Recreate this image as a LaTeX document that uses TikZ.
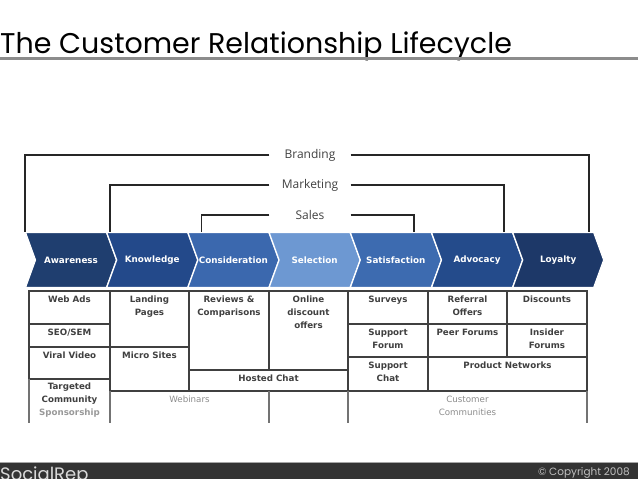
\documentclass[tikz,border=0pt]{standalone}
\usepackage{fontspec}
\setmainfont{DejaVu Sans}
\newfontfamily\titlefont{Poppins}
\newfontfamily\phasefont{Open Sans}
\usetikzlibrary{shapes.symbols,positioning}
\definecolor{chevA}{HTML}{1F3E6F}
\definecolor{chevB}{HTML}{23498A}
\definecolor{chevC}{HTML}{3B68AE}
\definecolor{chevD}{HTML}{6D98D2}
\definecolor{chevE}{HTML}{3D6BB0}
\definecolor{chevF}{HTML}{244B8B}
\definecolor{chevG}{HTML}{1D3868}
\begin{document}
\begin{tikzpicture}[x=1pt,y=-1pt,
	stage/.style={signal,signal from=west,signal to=east,signal pointer angle=140,minimum width=91pt,minimum height=55pt,inner sep=0pt,draw=white,line width=1.2pt,text=white,font=\fontsize{8.8}{10}\bfseries},
	phase/.style={font=\phasefont\fontsize{12}{14}\selectfont,text=black!75,minimum width=81pt,inner sep=0pt},
	cell/.style={draw=black!75,line width=1.1pt},
	celltext/.style={anchor=north,align=center,inner sep=0pt,text=black!75,font=\fontsize{8.7}{13}\bfseries},
	bracket/.style={draw=black!85,line width=1.7pt}]
	\useasboundingbox (0,0) rectangle (638,479);
	\clip (0,0) rectangle (638,479);
	\node[anchor=base west,inner sep=0pt,font=\titlefont\fontsize{28.5}{30}\selectfont] (T) at (0,53) {The Customer Relationship Lifecycle};
	\draw[black!45,line width=2.2pt] (0,58.5) -- (638,58.5);
	\foreach \t/\c [count=\n] in
		{Awareness/chevA,Knowledge/chevB,Consideration/chevC,Selection/chevD,Satisfaction/chevE,Advocacy/chevF,Loyalty/chevG}
		\node[stage,fill=\c] (N\n) at (71+81.2*\n-81.2,260) {\t};
	\node[phase] (Bra) at (310,155) {Branding};
	\node[phase] (Mkt) at (310,185) {Marketing};
	\node[phase] (Sal) at (310,215) {Sales};
	\draw[bracket] (Bra.west) -| ([xshift=-46pt]N1.north);
	\draw[bracket] (Bra.east) -| ([xshift=31pt]N7.north);
	\draw[bracket] (Mkt.west) -| ([xshift=-42pt]N2.north);
	\draw[bracket] (Mkt.east) -| ([xshift=27pt]N6.north);
	\draw[bracket] (Sal.west) -| ([xshift=-32pt]N3.north);
	\draw[bracket] (Sal.east) -| ([xshift=18pt]N5.north);
	\foreach \xa/\ya/\xb/\yb/\t [count=\n] in
		{29/291/110/324/{Web Ads},29/324/110/347/{SEO/SEM},29/347/110/379/{Viral Video},
		110/291/189/347/{Landing\\Pages},110/347/189/391/{Micro Sites},
		189/291/269/370/{Reviews \&\\Comparisons},269/291/348/370/{Online\\discount\\offers},189/370/348/391/{Hosted Chat},
		348/291/428/324/{Surveys},348/324/428/357/{Support\\Forum},348/357/428/391/{Support\\Chat},
		428/291/507/324/{Referral\\Offers},428/324/507/357/{Peer Forums},
		507/291/587/324/{Discounts},507/324/587/357/{Insider\\Forums},428/357/587/391/{Product Networks}}
	{
		\draw[cell] (\xa,\ya) rectangle (\xb,\yb);
		\node[celltext] (C\n) at ({(\xa+\xb)/2},\ya+5) {\t};
	}
	\foreach \x/\y in {29/379,110/391,269/391,348/391,587/391}
		\draw[cell,draw=black!55] (\x,\y) -- (\x,423);
	\node[celltext] (C17) at (69.5,383) {Targeted\\Community\\\textcolor{black!40}{Sponsorship}};
	\node[celltext,text=black!45,font=\fontsize{8.7}{13}\selectfont] (C18) at (189.5,396) {Webinars};
	\node[celltext,text=black!45,font=\fontsize{8.7}{13}\selectfont] (C19) at (467.5,396) {Customer\\Communities};
	\fill[black!80] (0,463) rectangle (638,479);
	\draw[black!35,line width=1pt] (0,462) -- (638,462);
	\node[anchor=north west,inner sep=0pt,font=\titlefont\fontsize{18}{20}\selectfont,text=black!15] (S) at (0,467) {SocialRep};
	\node[anchor=base east,inner sep=0pt,font=\titlefont\fontsize{10.5}{12}\selectfont,text=black!25] (R) at (630,475.5) {© Copyright 2008};
\end{tikzpicture}
\end{document}
